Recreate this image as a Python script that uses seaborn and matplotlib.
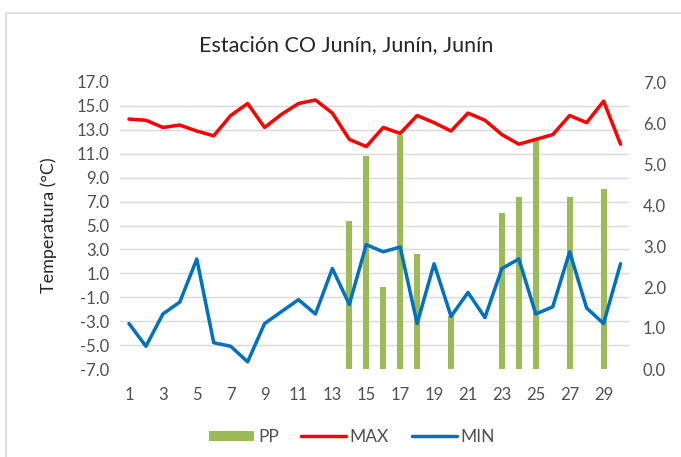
import numpy as np
import pandas as pd
import matplotlib
matplotlib.use("Agg")
import matplotlib.pyplot as plt
from matplotlib.ticker import FixedLocator
from matplotlib.patches import Rectangle
from matplotlib.lines import Line2D
from matplotlib.patches import Patch
import seaborn as sns

days = list(range(1, 31))
tmax = [13.9, 13.8, 13.2, 13.4, 12.9, 12.5, 14.2, 15.2, 13.2, 14.3,
        15.2, 15.5, 14.4, 12.2, 11.6, 13.2, 12.7, 14.2, 13.6, 12.9,
        14.4, 13.8, 12.6, 11.8, 12.2, 12.6, 14.2, 13.6, 15.4, 11.8]
tmin = [-3.2, -5.1, -2.4, -1.4, 2.2, -4.8, -5.1, -6.4, -3.2, -2.2,
        -1.2, -2.4, 1.4, -1.6, 3.4, 2.8, 3.2, -3.2, 1.8, -2.6,
        -0.6, -2.7, 1.4, 2.2, -2.4, -1.8, 2.8, -1.9, -3.2, 1.8]
pp = [0, 0, 0, 0, 0, 0, 0, 0, 0, 0,
      0, 0, 0, 3.6, 5.2, 2.0, 5.7, 2.8, 0, 1.3,
      0, 0, 3.8, 4.2, 5.6, 0, 4.2, 0, 4.4, 0]
temp_ticks = [-7.0, -5.0, -3.0, -1.0, 1.0, 3.0, 5.0, 7.0, 9.0, 11.0, 13.0, 15.0, 17.0]
pp_ticks = [0.0, 1.0, 2.0, 3.0, 4.0, 5.0, 6.0, 7.0]
x_ticks = list(range(1, 30, 2))

title = "Estación CO Junín, Junín, Junín"
ylabel = "Temperatura (°C)"

df = pd.DataFrame({"dia": days, "MAX": tmax, "MIN": tmin, "PP": pp})

GREEN = "#9BBB59"
RED = "#FF0000"
BLUE = "#0070C0"
TXT = "#505050"

sns.set_theme(style="white")
plt.rcParams["font.family"] = ["Lato", "DejaVu Sans"]

fig = plt.figure(figsize=(6.81, 4.57), dpi=100)
L, R, T, B = 120.5, 629, 82, 369
W, H = 681, 457
ax_pp = fig.add_axes([L / W, 1 - B / H, (R - L) / W, (B - T) / H])

sns.barplot(data=df, x="dia", y="PP", native_scale=True, color=GREEN,
            width=0.36, saturation=1, ax=ax_pp, zorder=2, linewidth=0)
ax_pp.set_ylim(0, 7)
ax_pp.set_xlim(0.5, 30.5)
ax_pp.set_yticks(pp_ticks)
ax_pp.set_yticklabels([f"{v:.1f}" for v in pp_ticks])
ax_pp.yaxis.set_minor_locator(FixedLocator(np.linspace(0, 7, len(temp_ticks))))
ax_pp.grid(which="minor", axis="y", color="#D9D9D9", linewidth=1.0, zorder=0)
ax_pp.set_axisbelow(True)
ax_pp.set_ylabel("")
ax_pp.set_xlabel("")
ax_pp.set_xticks(x_ticks)
ax_pp.set_xticklabels([str(d) for d in x_ticks])
for s in ax_pp.spines.values():
    s.set_visible(False)

ax_t = ax_pp.twinx()
# after twinx, move the PP axis ticks to the right side
ax_pp.yaxis.tick_right()
ax_pp.tick_params(axis="y", which="both", left=False, labelleft=False,
                  right=False, labelright=True)
ax_pp.tick_params(axis="both", which="both", length=0, labelsize=12, labelcolor=TXT)
ax_pp.tick_params(axis="y", pad=10)
ax_pp.tick_params(axis="x", pad=13)

sns.lineplot(data=df, x="dia", y="MAX", color=RED, linewidth=2.5, ax=ax_t, zorder=3)
sns.lineplot(data=df, x="dia", y="MIN", color=BLUE, linewidth=2.5, ax=ax_t, zorder=3)
ax_t.set_ylim(-7, 17)
ax_t.set_xlim(0.5, 30.5)
ax_t.yaxis.tick_left()
ax_t.yaxis.set_label_position("left")
ax_t.tick_params(axis="y", which="both", right=False, labelright=False, labelleft=True)
ax_t.set_yticks(temp_ticks)
ax_t.set_yticklabels([f"{v:.1f}" for v in temp_ticks])
ax_t.tick_params(axis="both", length=0, labelsize=12, labelcolor=TXT)
ax_t.tick_params(axis="y", pad=8)
ax_t.set_ylabel(ylabel, fontsize=13, color="#262626", labelpad=14)
ax_t.set_xlabel("")
ax_t.grid(False)
for s in ax_t.spines.values():
    s.set_visible(False)

fig.text(346 / W, 1 - 45 / H, title, ha="center", va="center", fontsize=15.5, color="#262626")

handles = [Patch(facecolor=GREEN, edgecolor="none"),
           Line2D([0], [0], color=RED, linewidth=2.5),
           Line2D([0], [0], color=BLUE, linewidth=2.5)]
fig.legend(handles, ["PP", "MAX", "MIN"], loc="center", bbox_to_anchor=(352 / W, 1 - 437 / H),
           ncol=3, frameon=False, fontsize=12.5, labelcolor=TXT, handlelength=2.6,
           handleheight=0.55, handletextpad=0.2, columnspacing=1.3)

fig.patches.append(Rectangle((6 / W, -0.1), 1.2, 1 - 13 / H + 0.1, transform=fig.transFigure,
                             fill=False, edgecolor="#D9D9D9", linewidth=1.2, zorder=0))

fig.savefig("out.png", dpi=100)
